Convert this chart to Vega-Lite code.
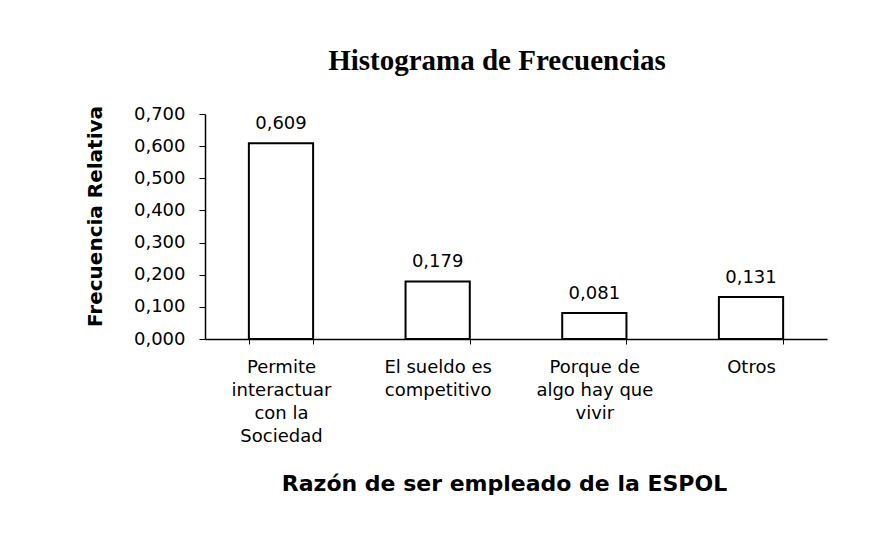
{
  "$schema": "https://vega.github.io/schema/vega-lite/v6.json",
  "autosize": {"type": "none"},
  "width": 622,
  "height": 225,
  "padding": {"left": 205, "top": 114, "right": 65, "bottom": 204},
  "background": "white",
  "config": {
    "locale": {"number": {"decimal": ",", "thousands": ".", "grouping": [3], "currency": ["", ""]}},
    "view": {"stroke": null},
    "font": "DejaVu Sans"
  },
  "title": {
    "text": "Histograma de Frecuencias",
    "font": "Liberation Serif",
    "fontSize": 29,
    "fontWeight": "bold",
    "color": "black",
    "anchor": "middle",
    "dx": -19,
    "offset": 29
  },
  "data": {
    "values": [
      {"razon": "Permite interactuar con la Sociedad", "label": ["Permite", "interactuar", "con la", "Sociedad"], "freq": 0.609},
      {"razon": "El sueldo es competitivo", "label": ["El sueldo es", "competitivo"], "freq": 0.179},
      {"razon": "Porque de algo hay que vivir", "label": ["Porque de", "algo hay que", "vivir"], "freq": 0.081},
      {"razon": "Otros", "label": ["Otros"], "freq": 0.131}
    ]
  },
  "encoding": {
    "x": {
      "field": "razon",
      "type": "nominal",
      "sort": null,
      "scale": {"paddingInner": 0.59, "paddingOuter": 0.28},
      "axis": {
        "title": "Razón de ser empleado de la ESPOL",
        "titleFont": "DejaVu Sans",
        "titleFontSize": 22,
        "titleFontWeight": "bold",
        "titleColor": "black",
        "titlePadding": 28,
        "titleX": 299,
        "labelAngle": 0,
        "labelExpr": "datum.value == 'Permite interactuar con la Sociedad' ? ['Permite','interactuar','con la','Sociedad'] : datum.value == 'El sueldo es competitivo' ? ['El sueldo es','competitivo'] : datum.value == 'Porque de algo hay que vivir' ? ['Porque de','algo hay que','vivir'] : datum.value",
        "labelFontSize": 18,
        "labelLineHeight": 23,
        "labelColor": "black",
        "labelPadding": 14,
        "labelBaseline": "top",
        "tickBand": "extent",
        "tickSize": 5,
        "tickColor": "black",
        "domainColor": "black",
        "domainWidth": 1.5,
        "grid": false
      }
    },
    "y": {
      "field": "freq",
      "type": "quantitative",
      "scale": {"domain": [0, 0.7]},
      "axis": {
        "title": "Frecuencia Relativa",
        "titleFont": "DejaVu Sans",
        "titleFontSize": 20,
        "titleFontWeight": "bold",
        "titleColor": "black",
        "titlePadding": 28,
        "titleY": 102,
        "values": [0, 0.1, 0.2, 0.3, 0.4, 0.5, 0.6, 0.7],
        "format": ".3f",
        "labelFontSize": 18,
        "labelColor": "black",
        "labelPadding": 14,
        "tickSize": 6,
        "tickColor": "black",
        "domainColor": "black",
        "domainWidth": 1.5,
        "grid": false
      }
    }
  },
  "layer": [
    {"mark": {"type": "bar", "fill": "white", "stroke": "black", "strokeWidth": 2}},
    {
      "mark": {"type": "text", "fontSize": 18, "color": "black", "baseline": "alphabetic", "dy": -14},
      "encoding": {"text": {"field": "freq", "type": "quantitative", "format": ".3f"}}
    }
  ]
}
